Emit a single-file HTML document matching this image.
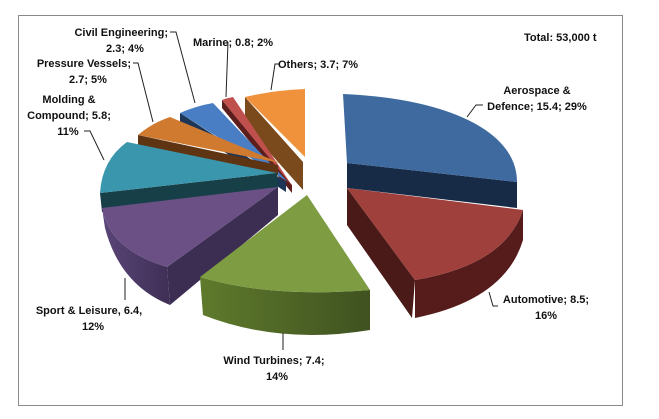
<!DOCTYPE html>
<html><head><meta charset="utf-8"><style>
html,body{margin:0;padding:0;background:#fff;width:659px;height:419px;overflow:hidden}
text{font-family:"Liberation Sans",Arial,sans-serif;font-weight:bold;font-size:11px;fill:#111}
</style></head><body>
<svg width="659" height="419" viewBox="0 0 659 419" xmlns="http://www.w3.org/2000/svg">
<defs>
<linearGradient id="gs" x1="0" x2="1" y1="0" y2="0"><stop offset="0" stop-color="#5f7a2c"/><stop offset="1" stop-color="#3f5220"/></linearGradient>
<linearGradient id="ps" x1="0" x2="1"><stop offset="0" stop-color="#5a4578"/><stop offset="1" stop-color="#3e2f55"/></linearGradient>
</defs>
<rect x="18.5" y="15.5" width="604" height="390" fill="#fff" stroke="#8a8a8a" stroke-width="1"/>

<!-- Others -->
<path d="M245,97 L303,162 L303,190 L245,125 Z" fill="#7a4a1c"/>
<path d="M245,97 Q275,90 305,89 L305,157 Z" fill="#f0913b"/>
<!-- Marine -->
<path d="M222,100 L292,185 L292,193 L222,108 Z" fill="#5c1e1c"/>
<path d="M222,100 Q227,98 233,97 L293,187 Z" fill="#c0504d"/>
<!-- Civil -->
<path d="M180,113 L286,182 L286,192 L180,123 Z" fill="#1d3657"/>
<path d="M180,113 Q196,106 213,103 L288,182 Z" fill="#4a7ec4"/>
<!-- Pressure -->
<path d="M138,135 L278,165 L278,175 L138,145 Z" fill="#5e3413"/>
<path d="M138,135 Q152,123 170,117 L280,163 Z" fill="#d07a30"/>
<!-- Molding -->
<path d="M100,193 L277,173 L278,192 L102,212 Z" fill="#173f48"/>
<path d="M127,142 Q102,160 100,193 L277,173 Z" fill="#3a96ac"/>
<!-- Sport -->
<path d="M278,187 L278,215 L170,305 L167,267 Z" fill="#3c2d52"/>
<path d="M102,208 L105,228 Q120,285 170,305 L167,267 Q110,250 102,208 Z" fill="url(#ps)"/>
<path d="M278,187 L102,208 Q110,250 167,267 Z" fill="#6a5085"/>
<!-- Wind -->
<path d="M200,277 Q270,298 370,290 L370,330 Q280,345 203,315 Z" fill="url(#gs)"/>
<path d="M307,195 L370,290 Q270,298 200,277 Z" fill="#7e9c42"/>
<!-- Automotive -->
<path d="M347,188 L347,225 L412,318 L415,280 Z" fill="#4a1a18"/>
<path d="M523,210 L523,240 Q505,300 415,318 L415,280 Q505,265 523,210 Z" fill="#561c1b"/>
<path d="M347,188 L523,210 Q505,265 415,280 Z" fill="#a0403c"/>
<!-- Aerospace -->
<path d="M347,163 L517,182 L517,208 L347,188 Z" fill="#172b47"/>
<path d="M343,94 C440,98 517,128 517,182 L347,163 Z" fill="#3e6aa0"/>

<!-- leader lines -->
<g stroke="#222" stroke-width="1" fill="none">
<path d="M170,32 L176,32 L195,103"/>
<path d="M228,42 L226,97"/>
<path d="M280,64 L275,64 L271,90"/>
<path d="M133,63 L138,63 L153,122"/>
<path d="M84,131 L90,131 L104,160"/>
<path d="M483,105 L476,105 L467,117"/>
<path d="M498,306 L493,306 L489,292"/>
<path d="M125,278 L125,300"/>
<path d="M283,333 L283,350"/>
</g>

<!-- labels -->
<text x="168" y="36" text-anchor="end">Civil Engineering;</text>
<text x="125" y="52" text-anchor="middle">2.3; 4%</text>
<text x="193" y="46">Marine; 0.8; 2%</text>
<text x="278" y="68">Others; 3.7; 7%</text>
<text x="131" y="67" text-anchor="end">Pressure Vessels;</text>
<text x="88" y="83" text-anchor="middle">2.7; 5%</text>
<text x="69" y="103" text-anchor="middle">Molding &amp;</text>
<text x="69" y="119" text-anchor="middle">Compound; 5.8;</text>
<text x="68" y="135" text-anchor="middle">11%</text>
<text x="524" y="41">Total: 53,000 t</text>
<text x="537" y="94" text-anchor="middle">Aerospace &amp;</text>
<text x="537" y="110" text-anchor="middle">Defence; 15.4; 29%</text>
<text x="546" y="303" text-anchor="middle">Automotive; 8.5;</text>
<text x="546" y="319" text-anchor="middle">16%</text>
<text x="89" y="314" text-anchor="middle">Sport &amp; Leisure, 6.4,</text>
<text x="93" y="330" text-anchor="middle">12%</text>
<text x="274" y="364" text-anchor="middle">Wind Turbines; 7.4;</text>
<text x="277" y="380" text-anchor="middle">14%</text>
</svg>
</body></html>
